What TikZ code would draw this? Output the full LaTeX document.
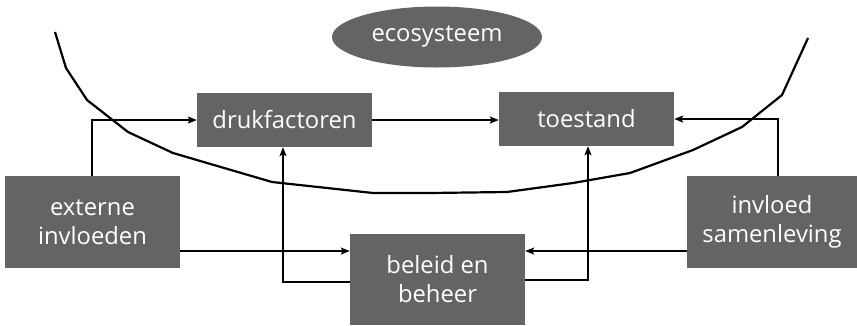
\documentclass[tikz,border=0pt]{standalone}
\usepackage{fontspec}
\setmainfont{Open Sans}
\usetikzlibrary{arrows.meta,shapes.geometric}
\definecolor{boxgray}{HTML}{636466}
\begin{document}
\begin{tikzpicture}[x=1pt,y=-1pt,
  boxnode/.style={fill=boxgray,text=white,inner sep=0pt,align=center,
    font=\fontsize{23.8}{29}\selectfont},
  conn/.style={line width=2.2pt,-{Stealth[length=9pt,width=7pt,inset=2pt]}},
  plainline/.style={line width=2.2pt}]
\useasboundingbox (0,0) rectangle (857,325);
\fill[white] (0,0) rectangle (857,325);
% curve
\draw[plainline,line join=round] (55,32) -- (66,68) -- (87,100) -- (128,132) -- (173,153) -- (272,182) -- (373,193) -- (430,193) -- (507,192) -- (573,183) -- (630,173) -- (693,150) -- (742,127) -- (782,95) -- (808,38);
% ellipse
\node[boxnode,ellipse,minimum width=210pt,minimum height=61pt] (eco) at (437,37) {ecosysteem};
% boxes
\node[boxnode,minimum width=175pt,minimum height=54pt] (druk) at (284.5,120) {drukfactoren};
\node[boxnode,minimum width=175pt,minimum height=54pt] (toe) at (586.5,119) {toestand};
\node[boxnode,minimum width=175pt,minimum height=92pt] (ext) at (92.5,222) {externe\\invloeden};
\node[boxnode,minimum width=170pt,minimum height=92pt] (inv) at (772,222) {invloed\\samenleving};
\node[boxnode,minimum width=175pt,minimum height=91pt] (bel) at (437.5,279.5) {beleid en\\beheer};
% connectors
\coordinate (c1) at (92,120);
\draw[conn] (ext.north -| c1) -- (c1) -- (druk.west);
\draw[conn] (ext.east |- 0,251) -- (bel.west |- 0,251);
\coordinate (c2) at (283,282);
\draw[conn] (bel.west |- c2) -- (c2) -- (druk.south -| c2);
\draw[conn] (druk.east) -- (toe.west |- druk.east);
\coordinate (c3) at (588,280);
\draw[conn] (bel.east |- c3) -- (c3) -- (toe.south -| c3);
\draw[conn] (inv.west |- 0,251) -- (bel.east |- 0,251);
\coordinate (c4) at (778,119);
\draw[conn] (inv.north -| c4) -- (c4) -- (toe.east);
\end{tikzpicture}
\end{document}
